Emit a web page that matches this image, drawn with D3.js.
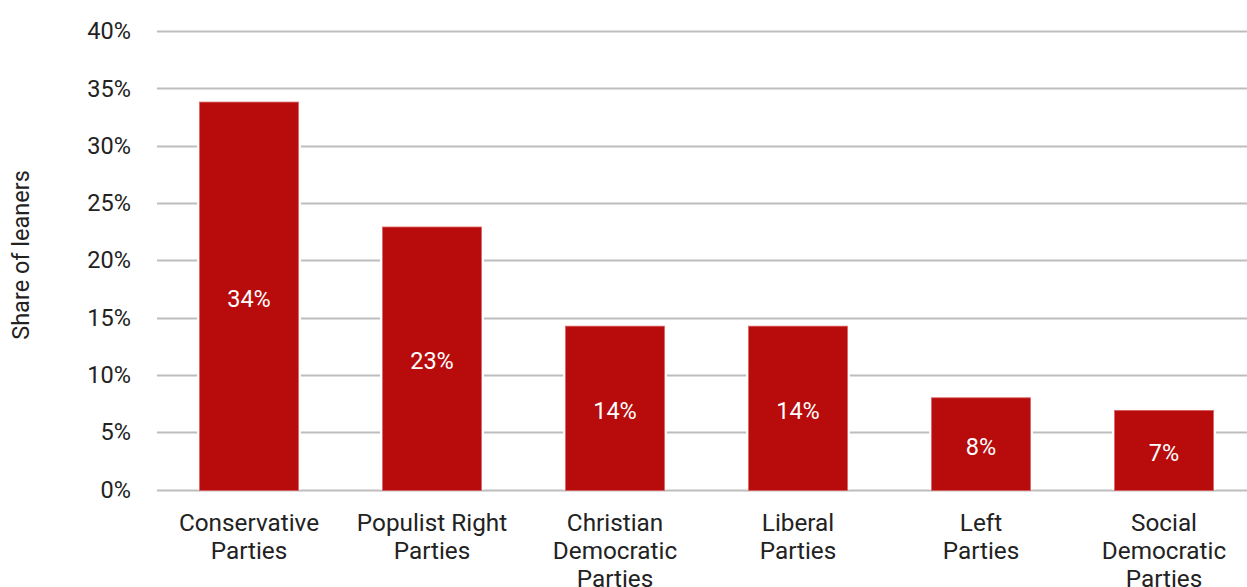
<!DOCTYPE html>
<html><head><meta charset="utf-8">
<script src="https://cdn.jsdelivr.net/npm/d3@7"></script>
<style>
body{margin:0;background:#fff;}
svg{display:block;font-family:Roboto, "Liberation Sans", sans-serif;}
</style></head>
<body><svg id="c" width="1247" height="587"></svg>
<script>
const categories = [["Conservative","Parties"],["Populist Right","Parties"],["Christian","Democratic","Parties"],["Liberal","Parties"],["Left","Parties"],["Social","Democratic","Parties"]];
const values = [33.8, 22.9, 14.25, 14.25, 8.0, 6.9];
const valueLabels = ["34%","23%","14%","14%","8%","7%"];
const yTicks = [0,5,10,15,20,25,30,35,40];
const yTitle = "Share of leaners";

const svg = d3.select("#c");
const x = d3.scaleBand().domain(d3.range(categories.length)).range([157.5,1255.5]).paddingInner(0.46).paddingOuter(0.23);
const y = d3.scaleLinear().domain([0,40]).range([489.5,31]);

// gridlines
svg.append("g").selectAll("line").data(yTicks).join("line")
  .attr("x1",157).attr("x2",1247)
  .attr("y1",d=>Math.round(y(d))+0.5).attr("y2",d=>Math.round(y(d))+0.5)
  .attr("stroke","#bdbdbd").attr("stroke-width",2);
// tick labels
svg.append("g").selectAll("text").data(yTicks).join("text")
  .attr("x",131).attr("y",d=>y(d)).attr("dy","0.35em")
  .attr("text-anchor","end").attr("font-size",23.5).attr("fill","#222")
  .text(d=>d+"%");
// y title
svg.append("text").attr("transform","translate(29,255) rotate(-90)")
  .attr("text-anchor","middle").attr("font-size",23.5).attr("fill","#222").text(yTitle);

// bars with white halo
const bars = svg.append("g");
bars.selectAll("rect.h").data(values).join("rect").attr("class","h")
  .attr("x",(d,i)=>x(i)-2.5).attr("width",x.bandwidth()+5)
  .attr("y",d=>y(d)-2).attr("height",d=>y(0)-y(d)+2).attr("fill","#fff");
bars.selectAll("rect.b").data(values).join("rect").attr("class","b")
  .attr("x",(d,i)=>x(i)).attr("width",x.bandwidth())
  .attr("y",d=>y(d)).attr("height",d=>y(0)-y(d)+1)
  .attr("fill","#b80b0b").attr("stroke","#d9605f").attr("stroke-width",0.8);
// value labels
svg.append("g").selectAll("text").data(values).join("text")
  .attr("x",(d,i)=>x(i)+x.bandwidth()/2).attr("y",d=>(y(d)+y(0))/2+3).attr("dy","0.35em")
  .attr("text-anchor","middle").attr("font-size",23.5).attr("fill","#fff")
  .text((d,i)=>valueLabels[i]);
// category labels
const cg = svg.append("g").selectAll("text").data(categories).join("text")
  .attr("x",(d,i)=>x(i)+x.bandwidth()/2).attr("y",531)
  .attr("text-anchor","middle").attr("font-size",24.3).attr("fill","#222");
cg.selectAll("tspan").data(d=>d).join("tspan")
  .attr("x",function(){return this.parentNode.getAttribute("x");})
  .attr("dy",(d,i)=>i===0?0:28).text(d=>d);
</script></body></html>
